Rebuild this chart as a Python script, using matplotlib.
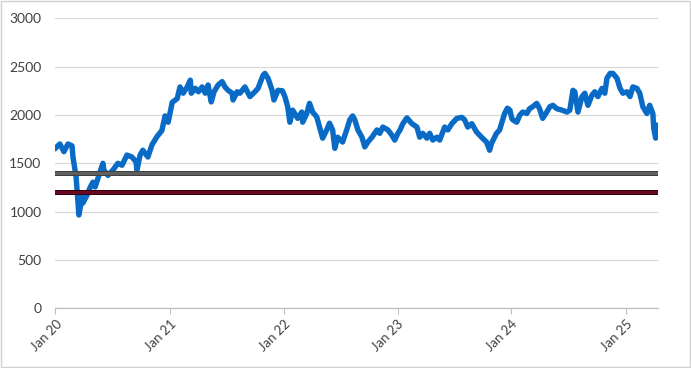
import numpy as np
import pandas as pd
import matplotlib
matplotlib.use("Agg")
import matplotlib.pyplot as plt
import matplotlib.patheffects as pe

# index level
dates = [
    "2020-01-02", "2020-01-15", "2020-01-28", "2020-02-10", "2020-02-23", "2020-02-26",
    "2020-03-07", "2020-03-13", "2020-03-16", "2020-03-26", "2020-03-29", "2020-04-11",
    "2020-04-21", "2020-04-30", "2020-05-07", "2020-05-16", "2020-06-01", "2020-06-04",
    "2020-06-17", "2020-07-03", "2020-07-19", "2020-08-01", "2020-08-17", "2020-09-02",
    "2020-09-15", "2020-09-18", "2020-09-28", "2020-10-07", "2020-10-23", "2020-11-05",
    "2020-11-21", "2020-12-07", "2020-12-17", "2020-12-27",
    "2021-01-09", "2021-01-25", "2021-02-03", "2021-02-13", "2021-02-26", "2021-03-08",
    "2021-03-11", "2021-03-24", "2021-04-03", "2021-04-15", "2021-04-25", "2021-05-04",
    "2021-05-14", "2021-05-23", "2021-06-05", "2021-06-18", "2021-06-27", "2021-07-07",
    "2021-07-20", "2021-07-23", "2021-08-05", "2021-08-14", "2021-08-30", "2021-09-15",
    "2021-10-01", "2021-10-11", "2021-10-27", "2021-11-02", "2021-11-12", "2021-11-25",
    "2021-12-01", "2021-12-14", "2021-12-28",
    "2022-01-05", "2022-01-14", "2022-01-21", "2022-01-30", "2022-02-15", "2022-02-28",
    "2022-03-03", "2022-03-16", "2022-03-25", "2022-04-04", "2022-04-17", "2022-04-26",
    "2022-05-06", "2022-05-19", "2022-05-28", "2022-06-07", "2022-06-14", "2022-06-23",
    "2022-07-09", "2022-07-22", "2022-08-01", "2022-08-10", "2022-08-17", "2022-08-27",
    "2022-09-09", "2022-09-18", "2022-09-28", "2022-10-11", "2022-10-27", "2022-11-05",
    "2022-11-15", "2022-12-01", "2022-12-14", "2022-12-23",
    "2023-01-02", "2023-01-09", "2023-01-18", "2023-01-31", "2023-02-16", "2023-03-04",
    "2023-03-13", "2023-03-23", "2023-04-05", "2023-04-14", "2023-04-24", "2023-05-07",
    "2023-05-16", "2023-06-01", "2023-06-11", "2023-06-24", "2023-07-10", "2023-07-26",
    "2023-08-04", "2023-08-14", "2023-08-27", "2023-09-11", "2023-09-27", "2023-10-13",
    "2023-10-23", "2023-10-29", "2023-11-14", "2023-11-24", "2023-12-10", "2023-12-19",
    "2023-12-27",
    "2024-01-02", "2024-01-05", "2024-01-18", "2024-01-28", "2024-02-06", "2024-02-19",
    "2024-02-28", "2024-03-09", "2024-03-22", "2024-03-31", "2024-04-10", "2024-04-23",
    "2024-05-03", "2024-05-13", "2024-05-25", "2024-06-11", "2024-06-27", "2024-07-06",
    "2024-07-16", "2024-07-22", "2024-08-01", "2024-08-14", "2024-08-23", "2024-09-02",
    "2024-09-15", "2024-09-24", "2024-10-04", "2024-10-17", "2024-10-26", "2024-11-02",
    "2024-11-12", "2024-11-21", "2024-12-04", "2024-12-14", "2024-12-23",
    "2025-01-05", "2025-01-15", "2025-01-24", "2025-02-06", "2025-02-15", "2025-02-25",
    "2025-03-10", "2025-03-19", "2025-03-29", "2025-04-01", "2025-04-07", "2025-04-10",
    "2025-04-14",
]
values = [
    1660, 1700, 1620, 1700, 1680, 1565,
    1360, 1090, 965, 1150, 1090, 1170,
    1250, 1305, 1255, 1345, 1500, 1430,
    1375, 1430, 1500, 1480, 1585, 1565,
    1515, 1430, 1585, 1635, 1565, 1690,
    1775, 1840, 1990, 1925,
    2130, 2170, 2290, 2225, 2290, 2360,
    2225, 2275, 2240, 2290, 2225, 2310,
    2135, 2240, 2310, 2345, 2290, 2255,
    2225, 2155, 2240, 2225, 2290, 2190,
    2240, 2275, 2410, 2430, 2380, 2255,
    2155, 2255, 2250,
    2190, 2085, 1925, 2050, 1965, 2030,
    1925, 2015, 2120, 2030, 1980, 1875,
    1760, 1845, 1915, 1845, 1655, 1770,
    1720, 1845, 1950, 1990, 1950, 1845,
    1770, 1670, 1720, 1770, 1845, 1810,
    1875, 1845, 1790, 1740,
    1810, 1845, 1910, 1970, 1910, 1875,
    1770, 1810, 1760, 1810, 1740, 1770,
    1740, 1875, 1845, 1910, 1965, 1975,
    1950, 1875, 1910, 1825, 1770, 1720,
    1635, 1705, 1810, 1845, 2015, 2070,
    2050,
    1965, 1950, 1925, 2000, 2030, 2015,
    2065, 2085, 2120, 2065, 1965, 2030,
    2085, 2100, 2065, 2050, 2030, 2050,
    2255, 2240, 2030, 2190, 2225, 2100,
    2205, 2240, 2190, 2275, 2225, 2380,
    2430, 2430, 2380, 2275, 2225,
    2240, 2190, 2290, 2275, 2225, 2085,
    2015, 2100, 2015, 1860, 1760, 1895,
    1860,
]
level_grey = 1400
level_red = 1200
tick_dates = ["2020-01-01", "2021-01-01", "2022-01-01", "2023-01-01", "2024-01-01", "2025-01-01"]
tick_labels = ["Jan 20", "Jan 21", "Jan 22", "Jan 23", "Jan 24", "Jan 25"]

x = pd.to_datetime(dates)
fig = plt.figure(figsize=(6.91, 3.68), dpi=100)
ax = fig.add_axes([0.0803, 0.1622, 0.8717, 0.7881])

ax.plot(x, values, color="#0A6BC6", lw=3.9, solid_joinstyle="round", zorder=3)

start = pd.Timestamp("2020-01-01")
end = x[-1]
ax.plot([start, end], [level_grey, level_grey], color="#5F5F5F", lw=2.4, zorder=4,
        path_effects=[pe.Stroke(linewidth=3.6, foreground="#3A3A3A"), pe.Normal()])
ax.plot([start, end], [level_red, level_red], color="#6A0A22", lw=2.4, zorder=4,
        path_effects=[pe.Stroke(linewidth=3.6, foreground="#2A0008"), pe.Normal()])

ax.set_xlim(start, end)
ax.set_ylim(0, 3000)
ax.set_yticks(np.arange(0, 3001, 500))
ax.yaxis.grid(True, color="#D9D9D9", lw=0.9)
ax.set_axisbelow(True)
for s in ["top", "right", "left"]:
    ax.spines[s].set_visible(False)
ax.spines["bottom"].set_color("#BFBFBF")
ax.spines["bottom"].set_linewidth(0.9)

ax.set_xticks(pd.to_datetime(tick_dates))
ax.set_xticklabels(tick_labels, rotation=45, ha="right", rotation_mode="anchor")
ax.tick_params(axis="x", length=4, color="#BFBFBF", labelsize=9.5, labelcolor="#404040", pad=3)
ax.tick_params(axis="y", length=0, labelsize=10, labelcolor="#404040", pad=10)
for lab in ax.get_xticklabels() + ax.get_yticklabels():
    lab.set_family(["Lato", "DejaVu Sans"])

# outer chart frame
fig.patches.append(plt.Rectangle((0.001, 0.002), 0.997, 0.995, transform=fig.transFigure,
                                 fill=False, edgecolor="#D0D0D0", lw=1))

fig.savefig("out.png", dpi=100)
